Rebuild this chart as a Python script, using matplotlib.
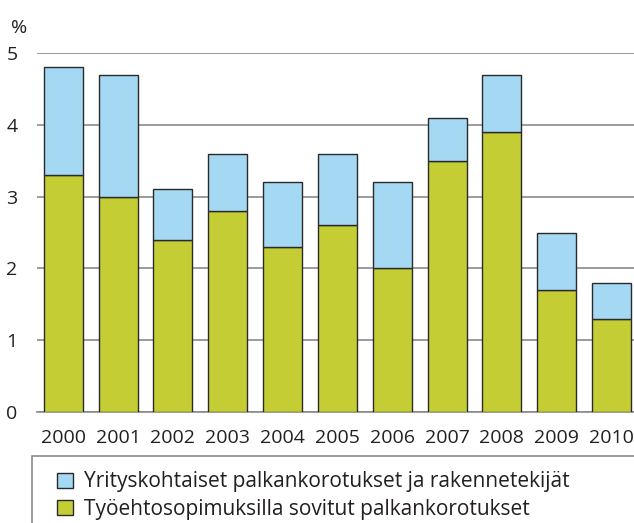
import matplotlib.pyplot as plt
from matplotlib.patches import Rectangle

plt.rcParams['font.family'] = ['Open Sans', 'DejaVu Sans']

years = ['2000', '2001', '2002', '2003', '2004', '2005', '2006', '2007', '2008', '2009', '2010']
tes = [3.3, 3.0, 2.4, 2.8, 2.3, 2.6, 2.0, 3.5, 3.9, 1.7, 1.3]
total = [4.8, 4.7, 3.1, 3.6, 3.2, 3.6, 3.2, 4.1, 4.7, 2.5, 1.8]
company = [t - g for t, g in zip(total, tes)]

label_company = 'Yrityskohtaiset palkankorotukset ja rakennetekijät'
label_tes = 'Työehtosopimuksilla sovitut palkankorotukset'

blue = '#a5d8f3'
green = '#c5cd34'
text_col = '#231f20'

fig = plt.figure(figsize=(6.34, 5.23), dpi=100)
ax = fig.add_axes([37 / 634, 1 - 412 / 523, 1 - 37 / 634, (412 - 53) / 523])

x = range(len(years))
b1 = ax.bar(x, tes, width=0.71, color=green, edgecolor='#2a2a2a', linewidth=1.0, zorder=3,
            label=label_tes)
b2 = ax.bar(x, company, bottom=tes, width=0.71, color=blue, edgecolor='#2a2a2a', linewidth=1.0,
            zorder=3, label=label_company)

ax.set_ylim(0, 5)
ax.set_xlim(-0.48, 10.41)
ax.set_yticks([0, 1, 2, 3, 4, 5])
ax.set_yticklabels(['0', '1', '2', '3', '4', '5'])
ax.set_xticks(list(x))
ax.set_xticklabels(years)
ax.yaxis.grid(True, color='#8a8a8a', linewidth=1.2, zorder=0)
ax.set_axisbelow(True)
for s in ['top', 'right', 'left']:
    ax.spines[s].set_visible(False)
ax.spines['bottom'].set_color('#8a8a8a')
ax.spines['bottom'].set_linewidth(1.2)
ax.tick_params(axis='both', length=0, labelsize=14, colors=text_col)
ax.tick_params(axis='y', pad=14)
ax.tick_params(axis='x', pad=12)

fig.text(11 / 634, 1 - 28 / 523, '%', fontsize=14, color=text_col, va='center', ha='left')

# legend box
fig.patches.append(Rectangle((32 / 634, -0.05), 1.0, 1 - 456 / 523 + 0.05,
                             transform=fig.transFigure, fill=False,
                             edgecolor='#8a8a8a', linewidth=1.2))
fig.legend([b2, b1], [label_company, label_tes], loc='upper left',
           bbox_to_anchor=(47 / 634, 1 - 461 / 523), frameon=False,
           fontsize=15, labelcolor=text_col, handlelength=0.75, handleheight=0.75,
           handletextpad=0.55, labelspacing=0.3, borderpad=0)

fig.savefig('out.png', dpi=100)
